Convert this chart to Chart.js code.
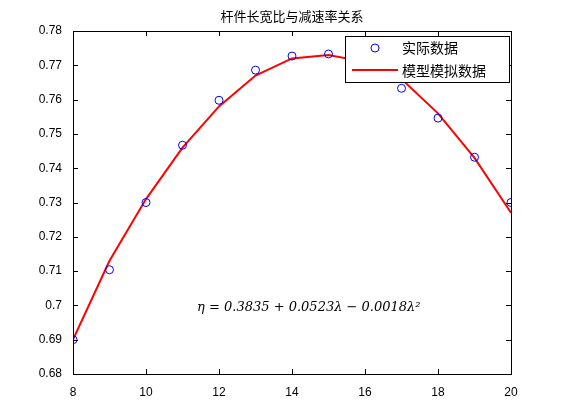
<!DOCTYPE html>
<html><head><meta charset="utf-8">
<script src="https://cdn.jsdelivr.net/npm/chart.js@4/dist/chart.umd.min.js"></script>
<style>body{margin:0;background:#fff}#wrap{width:561px;height:420px}</style>
</head><body><div id="wrap"><canvas id="c"></canvas></div>
<script>
const xs = [8,9,10,11,12,13,14,15,16,17,18,19,20];
const actual = [0.690,0.7104,0.730,0.7467,0.7598,0.7686,0.7727,0.7733,0.7715,0.7633,0.7546,0.7432,0.730];
const model = [0.690,0.713,0.731,0.746,0.758,0.767,0.772,0.773,0.771,0.766,0.756,0.743,0.727];
const titleText = '杆件长宽比与减速率关系';
const font = '12px "Liberation Sans", "Noto Sans CJK SC", sans-serif';

const matlab = {
  id: 'matlab',
  afterDraw(chart) {
    const {ctx, chartArea: a, scales: {x, y}} = chart;
    ctx.save();
    ctx.strokeStyle = '#000'; ctx.lineWidth = 1;
    ctx.strokeRect(a.left + 0.5, a.top + 0.5, a.right - a.left, a.bottom - a.top);
    ctx.beginPath();
    x.ticks.forEach(t => { const p = Math.round(x.getPixelForValue(t.value)) + 0.5;
      ctx.moveTo(p, a.bottom); ctx.lineTo(p, a.bottom - 5); ctx.moveTo(p, a.top); ctx.lineTo(p, a.top + 5); });
    y.ticks.forEach(t => { const p = Math.round(y.getPixelForValue(t.value)) + 0.5;
      ctx.moveTo(a.left, p); ctx.lineTo(a.left + 5, p); ctx.moveTo(a.right, p); ctx.lineTo(a.right - 5, p); });
    ctx.stroke();
    ctx.fillStyle = '#000';
    ctx.font = '13px "Noto Sans CJK SC", sans-serif';
    ctx.textAlign = 'center';
    ctx.fillText(titleText, (a.left + a.right) / 2, 21);
    // formula annotation
    ctx.font = 'italic 13px "DejaVu Serif", serif';
    ctx.textAlign = 'left';
    ctx.fillText('η = 0.3835 + 0.0523λ − 0.0018λ²', x.getPixelForValue(11.4), y.getPixelForValue(0.6985));
    // legend
    const lx = 345, ly = 36, lw = 164, lh = 46;
    ctx.fillStyle = '#fff'; ctx.fillRect(lx, ly, lw, lh);
    ctx.strokeRect(lx + 0.5, ly + 0.5, lw, lh);
    ctx.strokeStyle = '#00f';
    ctx.beginPath(); ctx.arc(375, 48, 4, 0, Math.PI * 2); ctx.stroke();
    ctx.strokeStyle = '#f00'; ctx.lineWidth = 2;
    ctx.beginPath(); ctx.moveTo(352, 70); ctx.lineTo(398, 70); ctx.stroke();
    ctx.fillStyle = '#000'; ctx.font = '14px "Noto Sans CJK SC", sans-serif';
    ctx.textBaseline = 'middle';
    ctx.fillText('实际数据', 402, 48);
    ctx.fillText('模型模拟数据', 402, 71);
    ctx.restore();
  }
};

new Chart(document.getElementById('c'), {
  type: 'scatter',
  data: {
    datasets: [
      { label: '实际数据', data: xs.map((v, i) => ({x: v, y: actual[i]})),
        pointStyle: 'circle', pointRadius: 4, borderColor: '#00f', backgroundColor: 'transparent', borderWidth: 1, order: 1 },
      { label: '模型模拟数据', data: xs.map((v, i) => ({x: v, y: model[i]})), showLine: true,
        pointRadius: 0, borderColor: '#f00', borderWidth: 2, order: 2 }
    ]
  },
  options: {
    responsive: true, maintainAspectRatio: false, animation: false,
    layout: { padding: { top: 31, right: 50, left: 0, bottom: 0 } },
    plugins: { legend: { display: false }, tooltip: { enabled: false } },
    scales: {
      x: { min: 8, max: 20, ticks: { stepSize: 2, color: '#000', font: {size: 12, family: 'Liberation Sans'}, maxRotation: 0 },
        grid: { display: false }, border: { display: false },
        afterFit(s) { s.height = 46; } },
      y: { min: 0.68, max: 0.78, ticks: { stepSize: 0.01, color: '#000', font: {size: 12, family: 'Liberation Sans'},
          callback: v => parseFloat(v.toFixed(2)).toString() },
        grid: { display: false }, border: { display: false },
        afterFit(s) { s.width = 73; } }
    }
  },
  plugins: [matlab]
});
</script></body></html>
